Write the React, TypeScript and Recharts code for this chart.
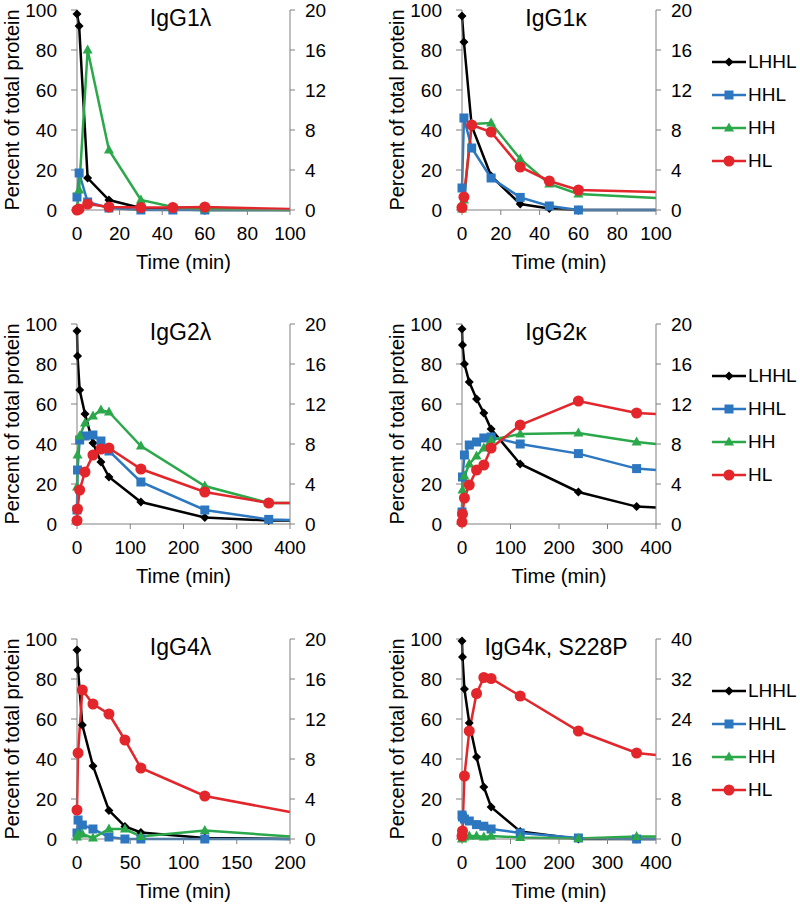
import React from "react";
import { Legend, Line, LineChart, XAxis, YAxis } from "recharts";

const FONT = '"Liberation Sans", Arial, Helvetica, sans-serif';
const AXIS = "#808080";

// time points (min)
const T_SHORT = [0, 1, 5, 15, 30, 45, 60, 100];
const T_MID = [0, 1, 5, 15, 30, 45, 60, 120, 200];
const T_LONG = [0, 1, 5, 15, 30, 45, 60, 120, 240, 360, 400];

// tick labels
const LEFT_TICKS = [0, 20, 40, 60, 80, 100];
const RIGHT_TICKS_20 = [0, 4, 8, 12, 16, 20];
const RIGHT_TICKS_40 = [0, 8, 16, 24, 32, 40];
const X_TICKS_100 = [0, 20, 40, 60, 80, 100];
const X_TICKS_200 = [0, 50, 100, 150, 200];
const X_TICKS_400 = [0, 100, 200, 300, 400];

// IgG1λ  (LHHL, HHL on left axis; HH, HL on right axis)
const G1L_LHHL = [98, 92, 16, 5, 1, 0.2, 0, 0];
const G1L_HHL = [6.5, 18.5, 4, 1, 0, 0, 0, 0];
const G1L_HH = [0.2, 2, 16, 6, 1, 0.3, 0.1, 0];
const G1L_HL = [0, 0.1, 0.6, 0.3, 0.25, 0.25, 0.3, 0.1];

// IgG1κ
const G1K_LHHL = [97, 84, 42, 17, 3, 0.8, 0, 0];
const G1K_HHL = [11, 46, 31, 16, 6.3, 2, 0, 0];
const G1K_HH = [0.1, 1, 8.6, 8.7, 5.1, 2.6, 1.6, 1.2];
const G1K_HL = [0.25, 1.3, 8.5, 7.8, 4.3, 2.9, 2, 1.8];

// IgG2λ
const G2L_LHHL = [96.5, 84, 67, 55, 40.5, 31, 23.5, 11, 3.3, 1.7, 1.7];
const G2L_HHL = [7, 27, 42, 44, 44.5, 41.5, 36.5, 21, 7, 2.3, 2];
const G2L_HH = [3.7, 6.9, 8.8, 10.1, 10.8, 11.4, 11.2, 7.8, 3.8, 2.1, 2.1];
const G2L_HL = [0.35, 1.5, 3.4, 5.2, 6.9, 7.5, 7.6, 5.5, 3.2, 2.1, 2.1];

// IgG2κ
const G2K_LHHL = [97.5, 89.5, 80, 71, 62.5, 55.5, 47.5, 30, 16, 8.7, 8.3];
const G2K_HHL = [6, 23.5, 34.5, 39.5, 41, 43, 43.5, 40, 35.2, 27.7, 27];
const G2K_HH = [0.6, 3.4, 4.8, 6, 6.8, 7.6, 8.4, 9, 9.1, 8.2, 8];
const G2K_HL = [0.2, 1, 2.6, 3.9, 5.4, 5.9, 7.6, 9.9, 12.3, 11.1, 11];

// IgG4λ
const G4L_LHHL = [94.5, 84.5, 57, 36.5, 14.3, 6.3, 3.3, 0.5, 0];
const G4L_HHL = [3, 9.5, 7, 5, 1, 0, 0, 0, 0];
const G4L_HH = [0.2, 0.5, 0.5, 0.1, 1, 1, 0.25, 0.85, 0.25];
const G4L_HL = [2.9, 8.6, 14.9, 13.5, 12.5, 9.9, 7.1, 4.3, 2.7];

// IgG4κ, S228P
const G4K_LHHL = [99, 91, 75, 58, 41, 26, 16, 3.8, 0, 0, 0];
const G4K_HHL = [12, 11, 10, 9, 7.2, 6.4, 5, 3, 0.5, 0, 0];
const G4K_HH = [0, 0.2, 0.4, 0.6, 0.6, 0.4, 0.6, 0.3, 0.1, 0.5, 0.5];
const G4K_HL = [0.6, 1.6, 12.6, 21.6, 29.1, 32.3, 32.1, 28.6, 21.6, 17.2, 16.8];

type Shape = "diamond" | "square" | "triangle" | "circle";

const SERIES: { key: string; color: string; shape: Shape; axis: string }[] = [
  { key: "LHHL", color: "#000000", shape: "diamond", axis: "left" },
  { key: "HHL", color: "#2c77c0", shape: "square", axis: "left" },
  { key: "HH", color: "#2aa84a", shape: "triangle", axis: "right" },
  { key: "HL", color: "#e2262b", shape: "circle", axis: "right" },
];

function buildRows(times: number[], cols: Record<string, number[]>) {
  return times.map((time, i) => {
    const row: Record<string, number> = { time };
    Object.keys(cols).forEach((k) => (row[k] = cols[k][i]));
    return row;
  });
}

function Marker({ shape, cx, cy, color }: { shape: Shape; cx: number; cy: number; color: string }) {
  if (shape === "diamond") {
    const s = 4.5;
    return <polygon points={`${cx},${cy - s} ${cx + s},${cy} ${cx},${cy + s} ${cx - s},${cy}`} fill={color} />;
  }
  if (shape === "square") {
    return <rect x={cx - 4.5} y={cy - 4.5} width={9} height={9} fill={color} />;
  }
  if (shape === "triangle") {
    return <polygon points={`${cx},${cy - 5.5} ${cx + 5},${cy + 3.5} ${cx - 5},${cy + 3.5}`} fill={color} />;
  }
  return <circle cx={cx} cy={cy} r={5.5} fill={color} />;
}

function LegendBox() {
  return (
    <div style={{ fontFamily: FONT, fontSize: 19, color: "#000" }}>
      {SERIES.map((s) => (
        <div key={s.key} style={{ height: 33, display: "flex", alignItems: "center" }}>
          <svg width={40} height={14} style={{ display: "block" }}>
            <line x1={6} x2={40} y1={7} y2={7} stroke={s.color} strokeWidth={2.5} />
            <Marker shape={s.shape} cx={23} cy={7} color={s.color} />
          </svg>
          <span style={{ marginLeft: 2 }}>{s.key}</span>
        </div>
      ))}
    </div>
  );
}

interface PanelProps {
  title: string;
  rows: Record<string, number>[];
  xMax: number;
  xTicks: number[];
  rightMax: number;
  rightTicks: number[];
  left: number;
  top: number;
  legend?: boolean;
}

const axisLine = { stroke: AXIS };
const tickLine = { stroke: AXIS };
const tickStyle = { fill: "#000", fontSize: 19 };

function Panel({ title, rows, xMax, xTicks, rightMax, rightTicks, left, top, legend }: PanelProps) {
  const plotW = legend ? 194 : 213;
  const width = 77 + plotW + 50 + (legend ? 94 : 0);
  const textBox = {
    position: "absolute" as const,
    left: 77,
    width: plotW,
    textAlign: "center" as const,
    color: "#000",
    whiteSpace: "nowrap" as const,
  };
  return (
    <div style={{ position: "absolute", left, top, width, height: 275 }}>
      <LineChart width={width} height={275} data={rows} margin={{ top: 10, right: 0, left: 0, bottom: 0 }}>
        <XAxis
          dataKey="time"
          type="number"
          domain={[0, xMax]}
          ticks={xTicks}
          interval={0}
          height={65}
          tickSize={5}
          tickMargin={12}
          axisLine={axisLine}
          tickLine={tickLine}
          tick={tickStyle}
        />
        <YAxis
          yAxisId="left"
          orientation="left"
          width={77}
          domain={[0, 100]}
          ticks={LEFT_TICKS}
          interval={0}
          tickSize={6}
          tickMargin={14}
          axisLine={axisLine}
          tickLine={tickLine}
          tick={tickStyle}
          label={{
            value: "Percent of total protein",
            angle: -90,
            position: "center",
            dx: -27,
            fill: "#000",
            stroke: "none",
            fontSize: 20,
          }}
        />
        <YAxis
          yAxisId="right"
          orientation="right"
          width={50}
          domain={[0, rightMax]}
          ticks={rightTicks}
          interval={0}
          tickSize={5}
          tickMargin={10}
          axisLine={axisLine}
          tickLine={tickLine}
          tick={tickStyle}
        />
        {legend && (
          <Legend
            layout="vertical"
            align="right"
            verticalAlign="top"
            width={94}
            wrapperStyle={{ top: 45, right: 0 }}
            content={() => <LegendBox />}
          />
        )}
        {SERIES.map((s) => (
          <Line
            key={s.key}
            yAxisId={s.axis}
            dataKey={s.key}
            type="linear"
            stroke={s.color}
            strokeWidth={2.5}
            isAnimationActive={false}
            activeDot={false}
            dot={(p: any) =>
              p.payload.time === xMax ? (
                <g key={`d${p.index}`} />
              ) : (
                <Marker key={`d${p.index}`} shape={s.shape} cx={p.cx} cy={p.cy} color={s.color} />
              )
            }
          />
        ))}
      </LineChart>
      <div style={{ ...textBox, left: 74, top: 7, fontSize: 23, lineHeight: "23px" }}>{title}</div>
      <div style={{ ...textBox, top: 252, fontSize: 20, lineHeight: "20px" }}>Time (min)</div>
    </div>
  );
}

export default function App() {
  return (
    <div
      style={{
        position: "absolute",
        left: 0,
        top: 0,
        width: 800,
        height: 904,
        background: "#fff",
        fontFamily: FONT,
        overflow: "hidden",
      }}
    >
      <Panel
        title="IgG1λ"
        rows={buildRows(T_SHORT, { LHHL: G1L_LHHL, HHL: G1L_HHL, HH: G1L_HH, HL: G1L_HL })}
        xMax={100}
        xTicks={X_TICKS_100}
        rightMax={20}
        rightTicks={RIGHT_TICKS_20}
        left={0}
        top={0}
      />
      <Panel
        title="IgG1κ"
        rows={buildRows(T_SHORT, { LHHL: G1K_LHHL, HHL: G1K_HHL, HH: G1K_HH, HL: G1K_HL })}
        xMax={100}
        xTicks={X_TICKS_100}
        rightMax={20}
        rightTicks={RIGHT_TICKS_20}
        left={385}
        top={0}
        legend
      />
      <Panel
        title="IgG2λ"
        rows={buildRows(T_LONG, { LHHL: G2L_LHHL, HHL: G2L_HHL, HH: G2L_HH, HL: G2L_HL })}
        xMax={400}
        xTicks={X_TICKS_400}
        rightMax={20}
        rightTicks={RIGHT_TICKS_20}
        left={0}
        top={314}
      />
      <Panel
        title="IgG2κ"
        rows={buildRows(T_LONG, { LHHL: G2K_LHHL, HHL: G2K_HHL, HH: G2K_HH, HL: G2K_HL })}
        xMax={400}
        xTicks={X_TICKS_400}
        rightMax={20}
        rightTicks={RIGHT_TICKS_20}
        left={385}
        top={314}
        legend
      />
      <Panel
        title="IgG4λ"
        rows={buildRows(T_MID, { LHHL: G4L_LHHL, HHL: G4L_HHL, HH: G4L_HH, HL: G4L_HL })}
        xMax={200}
        xTicks={X_TICKS_200}
        rightMax={20}
        rightTicks={RIGHT_TICKS_20}
        left={0}
        top={629}
      />
      <Panel
        title="IgG4κ, S228P"
        rows={buildRows(T_LONG, { LHHL: G4K_LHHL, HHL: G4K_HHL, HH: G4K_HH, HL: G4K_HL })}
        xMax={400}
        xTicks={X_TICKS_400}
        rightMax={40}
        rightTicks={RIGHT_TICKS_40}
        left={385}
        top={629}
        legend
      />
    </div>
  );
}
